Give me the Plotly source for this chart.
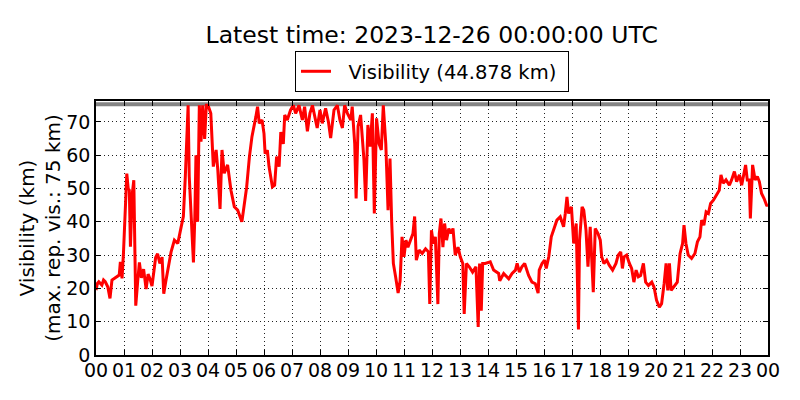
import plotly.graph_objects as go

# time in hours after 00 UTC, visibility in km
hours = [0.00, 0.05, 0.10, 0.21, 0.27, 0.33, 0.42, 0.50, 0.57, 0.65, 0.74, 0.83, 0.87, 0.93, 0.98,
         1.04, 1.07, 1.10, 1.15, 1.19, 1.23, 1.29, 1.35, 1.42, 1.49, 1.55, 1.62, 1.70, 1.79, 1.86, 1.93,
         2.00, 2.07, 2.13, 2.20, 2.28, 2.36, 2.42, 2.49, 2.56, 2.68, 2.80, 2.92,
         3.04, 3.12, 3.19, 3.24, 3.29, 3.33, 3.40, 3.48, 3.53, 3.57, 3.63, 3.69, 3.75, 3.81, 3.88, 3.94,
         4.00, 4.10, 4.19, 4.29, 4.35, 4.43, 4.50, 4.58, 4.70, 4.82, 4.94,
         5.06, 5.21, 5.30, 5.38, 5.48, 5.57, 5.71, 5.77, 5.83, 5.93,
         6.00, 6.04, 6.12, 6.18, 6.30, 6.38, 6.45, 6.54, 6.60, 6.69, 6.74, 6.83, 6.95,
         7.05, 7.13, 7.25, 7.37, 7.45, 7.55, 7.64, 7.73, 7.81, 7.90,
         8.00, 8.08, 8.20, 8.30, 8.38, 8.50, 8.62, 8.71, 8.80, 8.88, 8.98,
         9.10, 9.15, 9.24, 9.29, 9.36, 9.45, 9.51, 9.57, 9.63, 9.71, 9.79, 9.87, 9.94,
         10.02, 10.11, 10.19, 10.26, 10.35, 10.43, 10.50, 10.56, 10.62, 10.70, 10.79, 10.86, 10.93,
         11.00, 11.07, 11.14, 11.24, 11.32, 11.38, 11.44, 11.54, 11.65, 11.77, 11.87, 11.92, 11.98,
         12.05, 12.12, 12.21, 12.26, 12.32, 12.39, 12.45, 12.52, 12.60, 12.68, 12.75, 12.83, 12.93,
         13.01, 13.10, 13.15, 13.23, 13.33, 13.45, 13.57, 13.65, 13.70, 13.76, 13.81, 13.90,
         14.08, 14.20, 14.38, 14.42, 14.56, 14.74, 14.86, 14.98,
         15.04, 15.12, 15.21, 15.31, 15.45, 15.57, 15.69, 15.79, 15.83, 15.93,
         16.02, 16.08, 16.17, 16.26, 16.35, 16.46, 16.58, 16.70, 16.76, 16.82, 16.88, 16.98,
         17.06, 17.15, 17.23, 17.27, 17.36, 17.42, 17.50, 17.57, 17.65, 17.76, 17.83, 17.93,
         18.01, 18.06, 18.14, 18.24, 18.33, 18.45, 18.57, 18.65, 18.74, 18.80, 18.86, 18.95,
         19.05, 19.13, 19.21, 19.29, 19.37, 19.45, 19.55, 19.63, 19.73, 19.85, 19.93,
         20.02, 20.12, 20.20, 20.29, 20.36, 20.42, 20.48, 20.54, 20.64, 20.76, 20.86, 20.95,
         21.00, 21.07, 21.15, 21.27, 21.39, 21.48, 21.57, 21.63, 21.71, 21.79, 21.87, 21.95,
         22.05, 22.17, 22.26, 22.32, 22.40, 22.50, 22.62, 22.70, 22.80, 22.88, 22.98,
         23.06, 23.14, 23.20, 23.26, 23.33, 23.37, 23.42, 23.45, 23.54, 23.62, 23.69, 23.77, 23.86, 23.95,
         24.00]

visibility = [19.5, 21.5, 22.0, 21.0, 22.5, 22.0, 20.5, 17.0, 22.5, 23.0, 23.5, 24.0, 28.0, 23.0, 30.5,
              41.5, 47.5, 54.5, 50.0, 49.5, 32.5, 48.0, 52.5, 14.8, 22.3, 27.8, 23.2, 25.8, 19.8, 24.3, 22.8,
              20.7, 25.3, 29.3, 30.4, 27.5, 29.4, 18.4, 22.0, 25.8, 30.9, 34.5, 33.5,
              38.4, 41.6, 53.6, 65.7, 75.0, 53.6, 40.0, 27.8, 41.6, 60.0, 40.0, 75.0, 64.1, 75.0, 64.9, 75.0,
              75.0, 72.6, 56.6, 61.6, 55.6, 43.9, 61.6, 54.6, 57.1, 49.5, 44.5,
              43.5, 40.0, 46.3, 50.4, 59.6, 65.6, 71.6, 74.6, 69.6, 70.6,
              66.5, 60.5, 61.5, 56.6, 50.5, 51.0, 59.6, 56.6, 67.0, 63.4, 72.1, 70.6, 73.6,
              75.0, 72.6, 75.0, 70.6, 74.6, 67.2, 72.6, 75.0, 71.6, 68.2,
              73.6, 69.6, 74.1, 70.1, 65.2, 73.6, 75.0, 70.6, 68.2, 75.0, 72.6,
              70.6, 74.6, 63.4, 47.0, 68.7, 72.1, 65.6, 58.6, 46.3, 69.1, 62.6, 72.6, 42.5,
              71.1, 63.4, 61.6, 75.0, 63.4, 43.5, 59.0, 40.0, 27.5, 23.5, 18.6, 22.2, 35.5,
              29.5, 34.5, 32.4, 34.5, 36.5, 41.6, 28.5, 31.5, 30.5, 31.9, 31.0, 15.3, 37.5,
              33.5, 35.5, 15.3, 36.5, 41.0, 32.4, 39.5, 34.5, 38.0, 36.5, 38.0, 30.0, 32.4,
              29.5, 27.5, 12.3, 27.5, 26.5, 24.9, 26.5, 8.4, 27.5, 13.3, 27.5, 27.5,
              28.0, 25.5, 24.5, 22.3, 24.5, 22.9, 24.5, 25.5,
              27.5, 24.9, 26.5, 27.5, 23.9, 21.9, 21.4, 18.6, 25.5, 27.5,
              28.5, 26.0, 29.5, 35.5, 37.5, 40.5, 41.5, 38.5, 42.5, 47.5, 42.5, 44.5,
              33.5, 39.5, 7.7, 34.5, 44.5, 43.5, 37.5, 26.5, 38.5, 18.9, 38.0, 36.5,
              34.5, 29.5, 27.5, 28.5, 27.0, 25.5, 27.5, 30.0, 31.0, 26.0, 29.5, 30.0,
              27.5, 26.0, 21.9, 25.5, 23.5, 23.9, 27.5, 21.9, 20.9, 21.9, 20.4,
              16.4, 14.4, 15.4, 21.4, 27.5, 19.4, 27.5, 19.4, 20.4, 21.9, 30.5, 33.5,
              39.0, 33.5, 30.0, 29.0, 30.5, 34.0, 35.5, 40.5, 39.0, 43.0, 42.5, 45.5,
              46.5, 48.5, 49.5, 54.1, 51.6, 52.6, 51.0, 52.6, 55.1, 52.1, 54.1,
              51.0, 55.1, 57.1, 52.6, 52.6, 41.0, 52.6, 57.1, 52.6, 53.6, 52.1, 48.5, 47.0, 45.0,
              44.878]

x_tick_vals = list(range(0, 25))
x_tick_text = ["00", "01", "02", "03", "04", "05", "06", "07", "08", "09", "10", "11", "12",
               "13", "14", "15", "16", "17", "18", "19", "20", "21", "22", "23", "00"]
y_tick_vals = [0, 10, 20, 30, 40, 50, 60, 70]
max_vis = 75

title_text = "Latest time: 2023-12-26 00:00:00 UTC"
legend_text = "Visibility (44.878 km)"

fig = go.Figure()
fig.add_trace(go.Scatter(x=hours, y=visibility, mode="lines",
                         name="\u00a0\u00a0" + legend_text + "\u00a0",
                         line=dict(color="#ff0000", width=3), showlegend=True))

fig.add_shape(type="line", xref="paper", x0=0, x1=1, yref="y", y0=max_vis + 0.3, y1=max_vis + 0.3,
              line=dict(color="rgba(110,110,110,0.85)", width=4), layer="below")

font = "DejaVu Sans, Verdana, sans-serif"
# page body adds an 8px offset, so the figure is 792x392 to fill the 800x400 window
fig.update_layout(
    width=792, height=392,
    margin=dict(l=88, r=32, t=93, b=45),
    paper_bgcolor="white", plot_bgcolor="white",
    font=dict(family=font, size=20, color="black"),
    title=dict(text=title_text, x=0.535, xanchor="center", y=0.932, yanchor="middle",
               font=dict(size=23.5, family=font, color="black")),
    legend=dict(x=0.5, xanchor="center", y=1.035, yanchor="bottom", orientation="h",
                bordercolor="black", borderwidth=1, bgcolor="white",
                font=dict(size=19.5, family=font)),
    showlegend=True,
)
fig.update_xaxes(range=[0, 24], tickvals=x_tick_vals, ticktext=x_tick_text, tickangle=0,
                 showline=True, linecolor="black", linewidth=1.5, mirror="ticks",
                 ticks="inside", ticklen=5, tickcolor="black", automargin=False,
                 ticklabelstandoff=-3,
                 showgrid=True, gridcolor="#222222", gridwidth=1, griddash="1px,3px",
                 zeroline=False, tickfont=dict(size=19))
fig.update_yaxes(range=[0, 76.3], tickvals=y_tick_vals,
                 showline=True, linecolor="black", linewidth=1.5, mirror="ticks",
                 ticks="inside", ticklen=5, tickcolor="black", automargin=False,
                 showgrid=True, gridcolor="#222222", gridwidth=1, griddash="1px,3px",
                 zeroline=False, tickfont=dict(size=19),
                 title=dict(text="Visibility (km)<br>(max. rep. vis.: 75 km)", standoff=0,
                            font=dict(size=20)))

fig.write_html("out.html")
